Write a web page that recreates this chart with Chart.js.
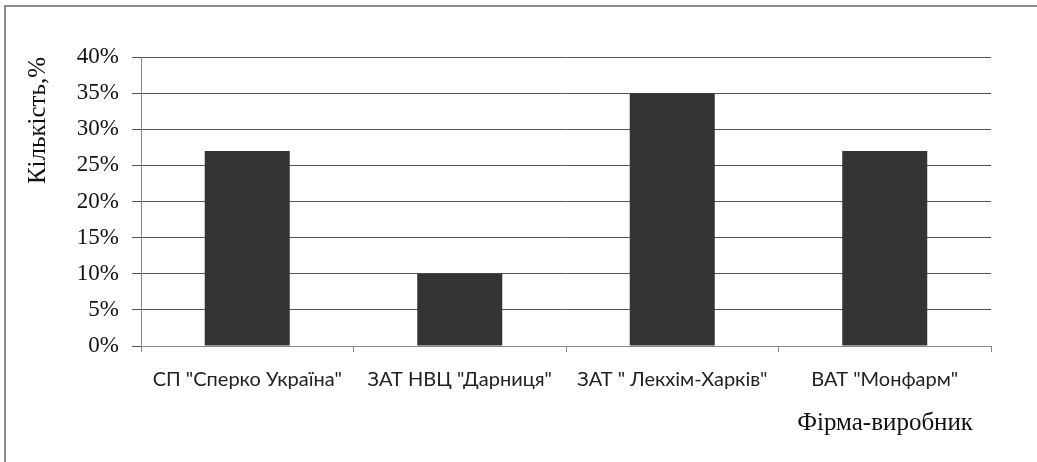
<!DOCTYPE html>
<html>
<head>
<meta charset="utf-8">
<script src="https://cdn.jsdelivr.net/npm/chart.js@4/dist/chart.umd.min.js"></script>
<style>
  html, body { margin: 0; padding: 0; background: #fff; overflow: hidden; }
  #wrap { position: relative; width: 1037px; height: 462px; }
  #frame { position: absolute; left: 4px; top: 5px; width: 1100px; height: 500px;
           border-left: 2px solid #8a8a8a; border-top: 2px solid #8a8a8a; pointer-events: none; }
  canvas { position: absolute; left: 0; top: 0; }
</style>
</head>
<body>
<div id="wrap">
  <canvas id="c" width="1037" height="462"></canvas>
  <div id="frame"></div>
</div>
<script>
const categories = ['СП "Сперко Україна"', 'ЗАТ НВЦ "Дарниця"', 'ЗАТ " Лекхім-Харків"', 'ВАТ "Монфарм"'];
const shares = [27, 10, 35, 27];
const yTicks = [0, 5, 10, 15, 20, 25, 30, 35, 40];
const yTitle = 'Кількість,%';
const xTitle = 'Фірма-виробник';

const xTitlePlugin = {
  id: 'xTitlePlugin',
  afterDraw(chart) {
    const ctx = chart.ctx;
    const sx = chart.scales.x;
    ctx.save();
    ctx.font = '25px "Liberation Serif"';
    ctx.fillStyle = '#111111';
    ctx.textAlign = 'right';
    ctx.textBaseline = 'middle';
    ctx.fillText(xTitle, sx.right - 18, 423);
    ctx.restore();
  }
};

new Chart(document.getElementById('c'), {
  type: 'bar',
  data: {
    labels: categories,
    datasets: [{
      data: shares,
      backgroundColor: '#333333',
      borderWidth: 0,
      categoryPercentage: 1.0,
      barPercentage: 0.4
    }]
  },
  plugins: [xTitlePlugin],
  options: {
    responsive: false,
    animation: false,
    devicePixelRatio: 1,
    layout: { padding: { left: 0, right: 46, top: 57, bottom: 0 } },
    plugins: { legend: { display: false }, tooltip: { enabled: false } },
    scales: {
      x: {
        offset: true,
        grid: { display: true, offset: true, drawOnChartArea: false, drawTicks: true, tickLength: 6, color: '#888888', lineWidth: 1 },
        border: { display: true, color: '#888888', width: 1 },
        ticks: { color: '#222222', font: { family: 'Lato', size: 20 }, padding: 16, maxRotation: 0, autoSkip: false },
        title: { display: false },
        afterFit: (s) => { s.height = 116; }
      },
      y: {
        min: 0, max: 40,
        afterBuildTicks: (s) => { s.ticks = yTicks.map(v => ({ value: v })); },
        grid: { color: '#555555', lineWidth: 1, drawTicks: true, tickLength: 9 },
        border: { display: true, color: '#888888', width: 1 },
        ticks: { color: '#111111', font: { family: 'Liberation Serif', size: 23 }, padding: 13,
                 callback: (v) => v + '%' },
        title: { display: true, text: yTitle, align: 'end', color: '#111111',
                 font: { family: 'Liberation Serif', size: 25 }, padding: { top: 23, bottom: 0 } },
        afterFit: (s) => { s.width = 141; }
      }
    }
  }
});
</script>
</body>
</html>
